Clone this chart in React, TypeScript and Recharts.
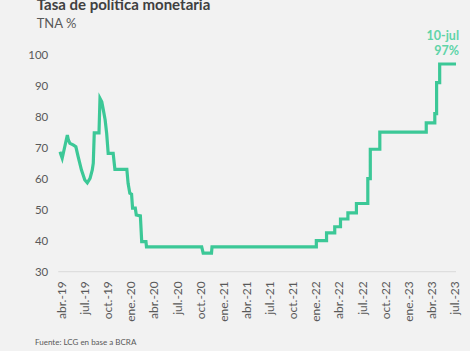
import React from "react";
import { LineChart, Line, XAxis, YAxis } from "recharts";

const rateDates: string[] = [
  "2019-03-25", "2019-04-03", "2019-04-23", "2019-04-27", "2019-05-03", "2019-05-16",
  "2019-05-27", "2019-06-05", "2019-06-18", "2019-07-01", "2019-07-11", "2019-07-22",
  "2019-07-31", "2019-08-04", "2019-08-08", "2019-08-27", "2019-08-31", "2019-09-07",
  "2019-09-13", "2019-09-20", "2019-09-26", "2019-10-02", "2019-10-22", "2019-10-29",
  "2019-12-15", "2019-12-20", "2019-12-27", "2020-01-03", "2020-01-07", "2020-01-18",
  "2020-01-22", "2020-02-07", "2020-02-12", "2020-02-28", "2020-03-01", "2020-10-06",
  "2020-10-12", "2020-11-14", "2020-11-16", "2022-01-02", "2022-01-02", "2022-02-11",
  "2022-02-11", "2022-03-14", "2022-03-14", "2022-04-06", "2022-04-06", "2022-05-05",
  "2022-05-05", "2022-06-08", "2022-06-08", "2022-07-23", "2022-07-23", "2022-08-02",
  "2022-08-02", "2022-09-09", "2022-09-09", "2023-03-10", "2023-03-10", "2023-04-13",
  "2023-04-13", "2023-04-20", "2023-04-20", "2023-05-02", "2023-05-02", "2023-07-10",
];

const rateValues: number[] = [
  68.7, 66.6, 74.1, 72.5, 71.4, 70.9,
  70.3, 67.1, 62.8, 59.6, 58.7, 60.1,
  62.8, 65, 74.8, 74.8, 85.9, 84.8,
  82.2, 79, 74.6, 68.2, 68.2, 63,
  63, 58.5, 55.3, 55, 50.5, 50.5,
  48.3, 48, 39.7, 39.7, 38, 38,
  36, 36, 38, 38, 40, 40,
  42.5, 42.5, 44.5, 44.5, 47, 47,
  49, 49, 52, 52, 60, 60,
  69.5, 69.5, 75, 75, 78, 78,
  81, 81, 91, 91, 97, 97,
];

const tickLabels: string[] = [
  "abr.-19", "jul.-19", "oct.-19", "ene.-20", "abr.-20", "jul.-20", "oct.-20", "ene.-21",
  "abr.-21", "jul.-21", "oct.-21", "ene.-22", "abr.-22", "jul.-22", "oct.-22", "ene.-23",
  "abr.-23", "jul.-23",
];
const yTicks: number[] = [30, 40, 50, 60, 70, 80, 90, 100];

const title = "Tasa de política monetaria";
const subtitle = "TNA %";
const source = "Fuente: LCG en base a BCRA";
const annotationDate = "10-jul";
const annotationValue = "97%";

// month index relative to April 2019 (abr.-19 = 0)
function toMonthIndex(s: string): number {
  const [y, m, d] = s.split("-").map(Number);
  const days = new Date(y, m, 0).getDate();
  return (y - 2019) * 12 + (m - 4) + (d - 1) / days;
}

const data = rateDates.map((d, i) => ({ m: toMonthIndex(d), v: rateValues[i] }));
const xTicks = tickLabels.map((_, i) => i * 3);

const FONT = "Lato, 'Open Sans', sans-serif";
const LINE = "#3cc897";
const GREY = "#595959";

const XTick = (props: any) => {
  const { x, y, payload } = props;
  const idx = Math.round(payload.value / 3);
  return (
    <text
      x={0}
      y={0}
      dy="0.35em"
      textAnchor="end"
      transform={`translate(${x},${y}) rotate(-90)`}
      fontSize={12}
      fill={GREY}
      fontFamily={FONT}
    >
      {tickLabels[idx]}
    </text>
  );
};

export default function App() {
  return (
    <div style={{ position: "absolute", left: 0, top: 0, width: 474, height: 355, background: "#ffffff" }}>
      <div style={{ position: "absolute", left: 0, top: 0, width: 470, height: 351, background: "#f2f2f2" }} />
      <div style={{ position: "absolute", left: 0, top: 0 }}>
        <LineChart
          width={474}
          height={355}
          data={data}
          margin={{ top: 54.7, right: 18, bottom: 43.3, left: 8.3 }}
        >
          <XAxis
            dataKey="m"
            type="number"
            domain={[-0.44, 51.15]}
            ticks={xTicks}
            interval={0}
            tickLine={false}
            tickSize={0}
            tickMargin={9.5}
            axisLine={{ stroke: "#d9d9d9", strokeWidth: 1 }}
            height={40}
            tick={<XTick />}
            allowDataOverflow
          />
          <YAxis
            type="number"
            domain={[30, 100]}
            ticks={yTicks}
            interval={0}
            axisLine={false}
            tickLine={false}
            tickMargin={4}
            width={50}
            tick={{ fontSize: 11.5, fill: GREY, fontFamily: FONT }}
          />
          <Line
            type="linear"
            dataKey="v"
            stroke={LINE}
            strokeWidth={3.2}
            dot={false}
            activeDot={false}
            isAnimationActive={false}
          />
        </LineChart>
      </div>
      <svg
        width={474}
        height={355}
        style={{ position: "absolute", left: 0, top: 0, pointerEvents: "none" }}
      >
        <text x={36.7} y={10} fontSize={15} fontWeight="bold" fill="#404040" fontFamily={FONT}>
          {title}
        </text>
        <text x={36.7} y={27.7} fontSize={13} fill={GREY} fontFamily={FONT}>
          {subtitle}
        </text>
        <text x={459} y={40} fontSize={12.5} fontWeight="bold" fill="#5fd4a8" textAnchor="end" fontFamily={FONT}>
          {annotationDate}
        </text>
        <text x={459} y={55} fontSize={12.5} fontWeight="bold" fill="#5fd4a8" textAnchor="end" fontFamily={FONT}>
          {annotationValue}
        </text>
        <text x={35} y={344.5} fontSize={8} fill={GREY} fontFamily={FONT}>
          {source}
        </text>
      </svg>
    </div>
  );
}
